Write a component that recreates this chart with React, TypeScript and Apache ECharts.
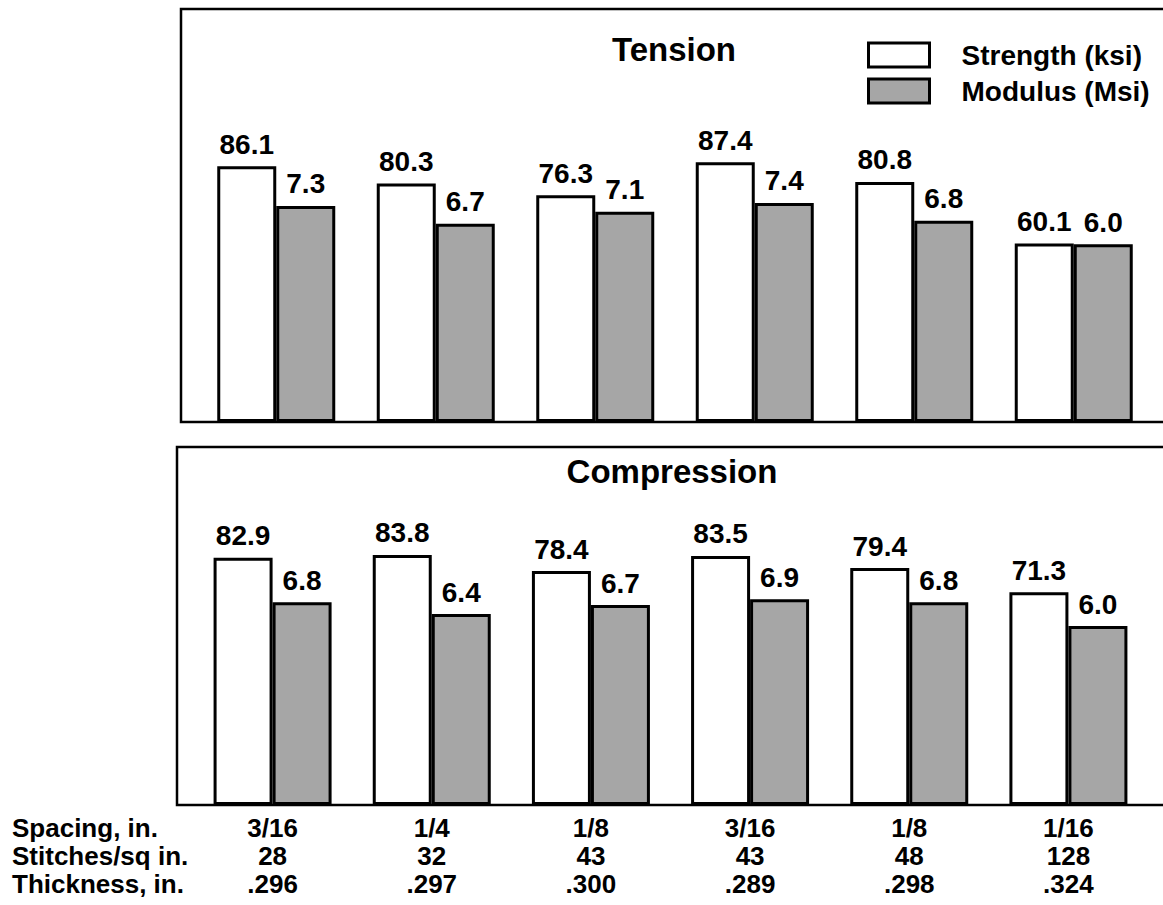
import React, { useEffect, useRef } from "react";
import * as echarts from "echarts";

const spacing = ["3/16", "1/4", "1/8", "3/16", "1/8", "1/16"];
const stitches = ["28", "32", "43", "43", "48", "128"];
const thickness = [".296", ".297", ".300", ".289", ".298", ".324"];

const tensionStrength = [86.1, 80.3, 76.3, 87.4, 80.8, 60.1];
const tensionModulus = [7.3, 6.7, 7.1, 7.4, 6.8, 6.0];
const compressionStrength = [82.9, 83.8, 78.4, 83.5, 79.4, 71.3];
const compressionModulus = [6.8, 6.4, 6.7, 6.9, 6.8, 6.0];

const rowLabels = ["Spacing, in.", "Stitches/sq in.", "Thickness, in."];
const panelTitles = ["Tension", "Compression"];
const seriesNames = ["Strength (ksi)", "Modulus (Msi)"];

const FONT = '"Liberation Sans", Arial, Helvetica, sans-serif';
const GRAY = "#a6a6a6";

export default function App() {
  const ref = useRef<HTMLDivElement>(null);

  useEffect(() => {
    document.body.style.margin = "0";
    const chart = echarts.init(ref.current!, null, { renderer: "svg" });
    const categories = spacing.map((s, i) => `${s}\n${stitches[i]}\n${thickness[i]}`);

    const labelCfg = {
      show: true,
      position: "top" as const,
      distance: 8,
      color: "#000",
      fontFamily: FONT,
      fontSize: 28,
      fontWeight: "bold" as const,
      formatter: (p: any) => Number(p.value).toFixed(1),
    };
    const strengthStyle = { color: "#ffffff", borderColor: "#000", borderWidth: 3 };
    const modulusStyle = { color: GRAY, borderColor: "#000", borderWidth: 3 };

    const option: any = {
      animation: false,
      backgroundColor: "#ffffff",
      textStyle: { fontFamily: FONT },
      grid: [
        { left: 196.5, top: 9, width: 957, height: 413 },
        { left: 193, top: 447, width: 955, height: 358 },
      ],
      xAxis: [
        {
          type: "category",
          gridIndex: 0,
          data: categories,
          axisLine: { show: false },
          axisTick: { show: false },
          axisLabel: { show: false },
        },
        {
          type: "category",
          gridIndex: 1,
          data: categories,
          axisLine: { show: false },
          axisTick: { show: false },
          axisLabel: {
            show: true,
            interval: 0,
            margin: 9,
            color: "#000",
            fontFamily: FONT,
            fontSize: 26,
            fontWeight: "bold",
            lineHeight: 28,
          },
        },
      ],
      yAxis: [
        { type: "value", gridIndex: 0, min: 0, max: 139, show: false, splitLine: { show: false } },
        { type: "value", gridIndex: 0, min: 0, max: 13.95, show: false, splitLine: { show: false } },
        { type: "value", gridIndex: 1, min: 0, max: 120, show: false, splitLine: { show: false } },
        { type: "value", gridIndex: 1, min: 0, max: 12, show: false, splitLine: { show: false } },
      ],
      legend: {
        left: 867,
        top: 41,
        padding: 0,
        orient: "vertical",
        icon: "rect",
        itemWidth: 61,
        itemHeight: 24,
        itemGap: 8,
        selectedMode: false,
        itemStyle: { borderColor: "#000", borderWidth: 3 },
        textStyle: {
          color: "#000",
          fontFamily: FONT,
          fontSize: 28,
          fontWeight: "bold",
          padding: [0, 0, 0, 27],
        },
        data: seriesNames,
      },
      graphic: [
        {
          type: "rect",
          shape: { x: 181, y: 9, width: 1010, height: 413 },
          style: { fill: "none", stroke: "#000", lineWidth: 2.5 },
          z: 100,
        },
        {
          type: "rect",
          shape: { x: 177, y: 447, width: 1010, height: 358 },
          style: { fill: "none", stroke: "#000", lineWidth: 2.5 },
          z: 100,
        },
        {
          type: "text",
          x: 674,
          y: 49,
          style: {
            text: panelTitles[0],
            fill: "#000",
            font: `bold 33px ${FONT}`,
            textAlign: "center",
            textVerticalAlign: "middle",
          },
        },
        {
          type: "text",
          x: 672,
          y: 471.5,
          style: {
            text: panelTitles[1],
            fill: "#000",
            font: `bold 33px ${FONT}`,
            textAlign: "center",
            textVerticalAlign: "middle",
          },
        },
        {
          type: "text",
          x: 12,
          y: 814,
          style: {
            text: rowLabels.join("\n"),
            fill: "#000",
            font: `bold 26px ${FONT}`,
            lineHeight: 28,
            textAlign: "left",
            textVerticalAlign: "top",
          },
        },
      ],
      series: [
        {
          name: seriesNames[0],
          type: "bar",
          xAxisIndex: 0,
          yAxisIndex: 0,
          data: tensionStrength,
          barWidth: 59,
          barGap: "0%",
          itemStyle: strengthStyle,
          label: labelCfg,
        },
        {
          name: seriesNames[1],
          type: "bar",
          xAxisIndex: 0,
          yAxisIndex: 1,
          data: tensionModulus,
          barWidth: 59,
          barGap: "0%",
          itemStyle: modulusStyle,
          label: labelCfg,
        },
        {
          name: seriesNames[0],
          type: "bar",
          xAxisIndex: 1,
          yAxisIndex: 2,
          data: compressionStrength,
          barWidth: 59,
          barGap: "0%",
          itemStyle: strengthStyle,
          label: labelCfg,
        },
        {
          name: seriesNames[1],
          type: "bar",
          xAxisIndex: 1,
          yAxisIndex: 3,
          data: compressionModulus,
          barWidth: 59,
          barGap: "0%",
          itemStyle: modulusStyle,
          label: labelCfg,
        },
      ],
    };

    chart.setOption(option);
    return () => chart.dispose();
  }, []);

  return <div ref={ref} style={{ width: 1163, height: 905 }} />;
}
